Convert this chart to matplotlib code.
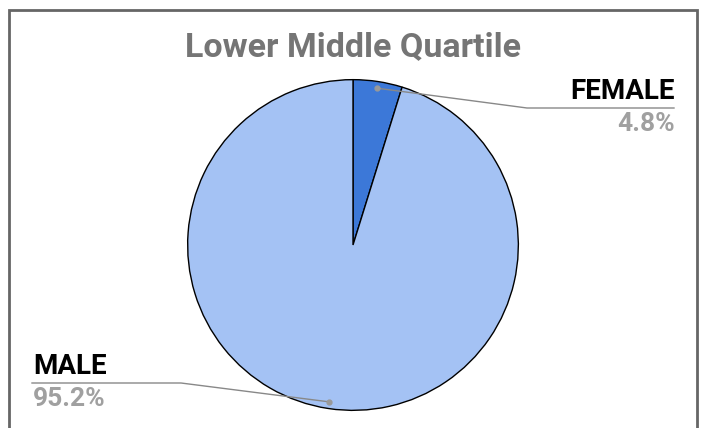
import numpy as np
import matplotlib
matplotlib.use('Agg')
import matplotlib.pyplot as plt
from matplotlib.lines import Line2D
from matplotlib.patches import Rectangle

plt.rcParams['font.family'] = ['Roboto', 'DejaVu Sans']

title = 'Lower Middle Quartile'
labels = ['FEMALE', 'MALE']
shares = [4.8, 95.2]
colors = ['#3c78d8', '#a4c2f4']

W, H = 701, 428
fig = plt.figure(figsize=(W / 100, H / 100), dpi=100)

def px(x, y):
    # pixel coords (top-left origin) -> figure fraction
    return x / W, 1 - y / H

# frame
fig.patches.append(Rectangle(px(8.5, 440), 688 / W, 430 / H, transform=fig.transFigure,
                             fill=False, edgecolor='#666666', linewidth=2))

fig.text(*px(353, 47), title, ha='center', va='center', fontsize=24.5,
         fontweight='bold', color='#757575')

# pie
cx, cy, r = 353, 245, 167
ax = fig.add_axes([(cx - r) / W, (H - cy - r) / H, 2 * r / W, 2 * r / H])
wedges, _ = ax.pie(shares, colors=colors, startangle=90, counterclock=False,
                   radius=1, wedgeprops=dict(edgecolor='black', linewidth=1))
ax.set_xlim(-1.01, 1.01)
ax.set_ylim(-1.01, 1.01)
ax.set_aspect('equal')
ax.axis('off')

# label layout: (elbow, end of line, text x, align)
layout = {
    'FEMALE': dict(elbow=(527, 108), end=(674, 108), tx=675, ha='right'),
    'MALE': dict(elbow=(181, 383), end=(32, 383), tx=33, ha='left'),
}

for w, lab, val in zip(wedges, labels, shares):
    ang = np.deg2rad((w.theta1 + w.theta2) / 2)
    dx = cx + 0.95 * r * np.cos(ang)
    dy = cy - 0.95 * r * np.sin(ang)
    L = layout[lab]
    xs = [dx, L['elbow'][0], L['end'][0]]
    ys = [dy, L['elbow'][1], L['end'][1]]
    pts = [px(a, b) for a, b in zip(xs, ys)]
    fig.lines.append(Line2D([p[0] for p in pts], [p[1] for p in pts],
                            transform=fig.transFigure, color='#888888', linewidth=1))
    fig.lines.append(Line2D([pts[0][0]], [pts[0][1]], transform=fig.transFigure,
                            marker='o', markersize=3.5, color='#999999', linestyle='none'))
    ly = L['end'][1]
    fig.text(*px(L['tx'], ly - 3), lab, ha=L['ha'], va='bottom', fontsize=20,
             fontweight='bold', color='black')
    fig.text(*px(L['tx'], ly + 4), f'{val}%', ha=L['ha'], va='top', fontsize=19,
             fontweight='bold', color='#a0a0a0')

fig.savefig('out.png', dpi=100, facecolor='white')
